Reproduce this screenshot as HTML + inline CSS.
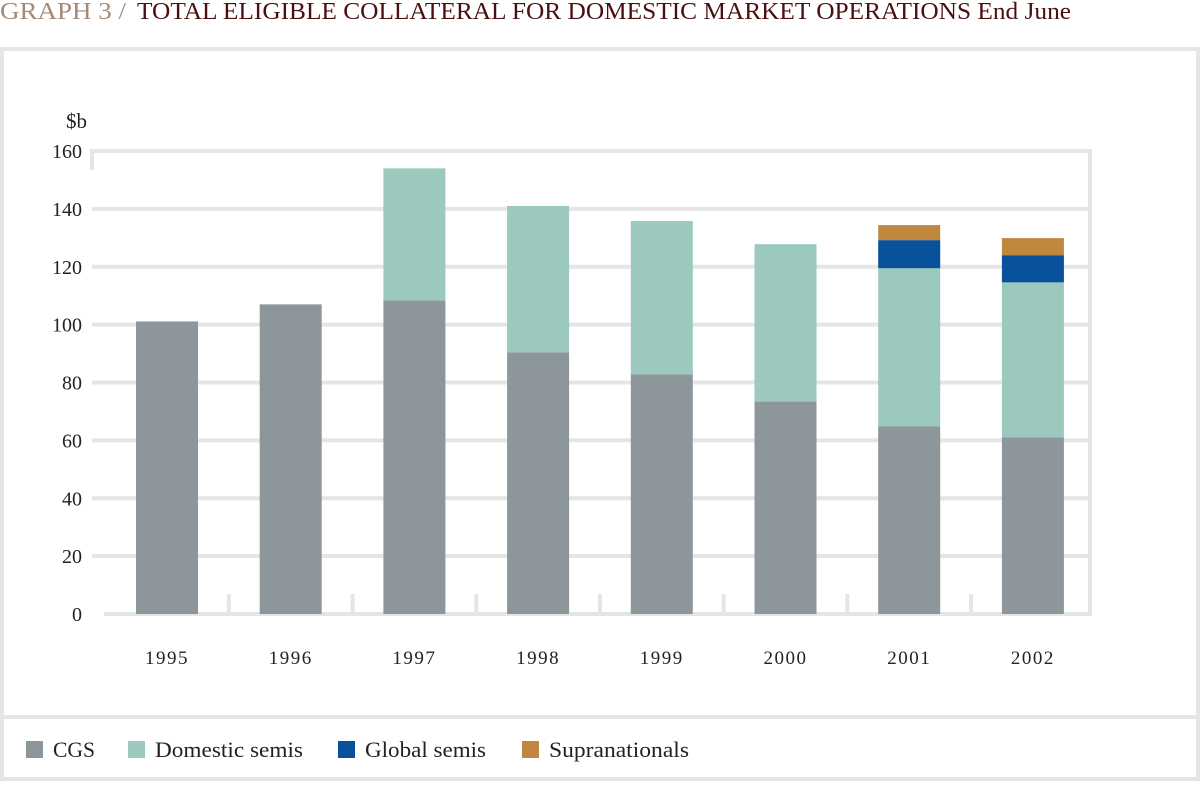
<!DOCTYPE html>
<html><head><meta charset="utf-8"><style>
body{margin:0;background:#fff;width:1200px;height:781px;overflow:hidden;font-family:"Liberation Serif",serif}
</style></head><body>
<svg width="1200" height="781" xmlns="http://www.w3.org/2000/svg">
<text x="0" y="19" font-size="24" fill="#a58a78" textLength="126" lengthAdjust="spacingAndGlyphs">GRAPH 3 /</text>
<text x="137" y="19" font-size="24" fill="#4a1010" textLength="934" lengthAdjust="spacingAndGlyphs">TOTAL ELIGIBLE COLLATERAL FOR DOMESTIC MARKET OPERATIONS  End June</text>
<rect x="2" y="49" width="1196" height="730" fill="none" stroke="#e4e5e5" stroke-width="4"/>
<line x1="2" y1="717" x2="1198" y2="717" stroke="#e4e5e5" stroke-width="4"/>
<text x="66" y="128" font-size="21" fill="#222">$b</text>
<g id="grid"></g><g id="bars"></g><g id="axes"></g>
<g id="legend"></g>
</svg>
<script>
const categories=["1995","1996","1997","1998","1999","2000","2001","2002"];
const cgs=[101.1,107,108.4,90.4,82.8,73.4,64.8,61];
const domestic=[0,0,45.6,50.6,53,54.4,54.7,53.6];
const globalSemis=[0,0,0,0,0,0,9.7,9.4];
const supra=[0,0,0,0,0,0,5.2,5.9];
const yTicks=[0,20,40,60,80,100,120,140,160];
const seriesNames=["CGS","Domestic semis","Global semis","Supranationals"];
const colors=["#8d969b","#9bc9bd","#0a519c","#c0883e"];
const NS="http://www.w3.org/2000/svg";
const y0=614,y1=151,x0=92,x1=1090;
const ys=v=>y0-(v/160)*(y0-y1);
const step=123.7,first=167,bw=62;
const xc=i=>first+i*step;
function mk(t,a,p){const e=document.createElementNS(NS,t);for(const k in a)e.setAttribute(k,a[k]);document.getElementById(p).appendChild(e);return e;}
yTicks.forEach(v=>{
 const l=mk("line",{x1:v===0?104:x0,x2:x1,y1:ys(v),y2:ys(v),stroke:"#e4e5e5","stroke-width":4},"grid");
 
 
 const t=mk("text",{x:82,y:ys(v)+7,"font-size":20,"text-anchor":"end",fill:"#222"},"axes");
 t.textContent=v;
 
 
});
const lb=mk("line",{x1:x0,x2:x0,y1:y1-2,y2:170,stroke:"#e4e5e5","stroke-width":4},"grid");


const rb=mk("line",{x1:x1,x2:x1,y1:y1-2,y2:y0+2,stroke:"#e4e5e5","stroke-width":4},"grid");


categories.forEach((c,i)=>{
 if(i>0){const s=mk("line",{x1:xc(i)-step/2,x2:xc(i)-step/2,y1:594,y2:614,stroke:"#e4e5e5","stroke-width":4},"grid");
 
 }
 let base=0;
 [cgs,domestic,globalSemis,supra].forEach((arr,k)=>{
  const v=arr[i]; if(!v)return;
  const r=mk("rect",{x:xc(i)-bw/2,y:ys(base+v),width:bw,height:ys(base)-ys(base+v),fill:colors[k]},"bars");
  
  
  base+=v;
 });
 const t=mk("text",{x:xc(i),y:664,"font-size":19,"text-anchor":"middle",fill:"#222","letter-spacing":"1.5"},"axes");
 t.textContent=c;
 
 
});
const lx=[26,128,338,522];
const lw=[42,148,121,140];
seriesNames.forEach((n,k)=>{
 const r=mk("rect",{x:lx[k],y:741,width:17,height:17,fill:colors[k]},"legend");
 
 
 const t=mk("text",{x:lx[k]+27,y:757,"font-size":22,fill:"#222",textLength:lw[k],lengthAdjust:"spacingAndGlyphs"},"legend");
 t.textContent=n;
 
 
});
</script>
</body></html>
